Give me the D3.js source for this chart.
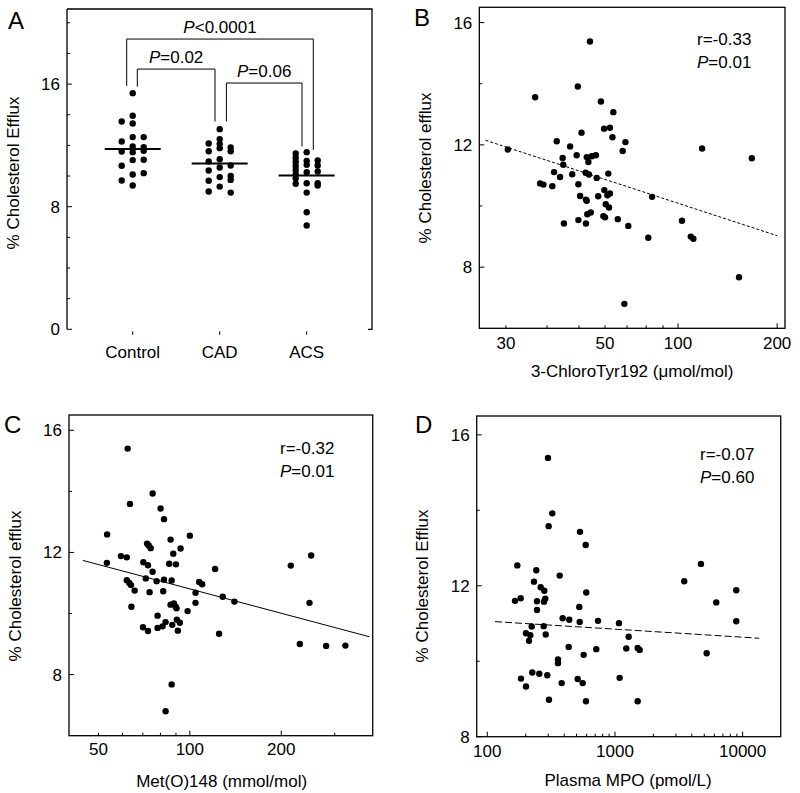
<!DOCTYPE html>
<html>
<head>
<meta charset="utf-8">
<script src="https://cdn.jsdelivr.net/npm/d3@7"></script>
<style>
  body { margin: 0; background: #fff; }
  svg text { font-family: "Liberation Sans", Arial, Helvetica, sans-serif; fill: #000; }
</style>
</head>
<body>
<div id="chart"></div>
<script>
// ---- panel A data: efflux per group, with the dot column (-1 / 0 / 1) it sits in
const groups = ["Control", "CAD", "ACS"];
const controlEfflux = [13.56, 12.25, 11.6, 10.67, 9.71,
  15.41, 13.93, 13.43, 12.54, 11.93, 11.56, 11.04, 10.1, 9.38,
  12.54, 11.89, 11.65, 11.06, 10.19];
const controlLane = [-1, -1, -1, -1, -1, 0, 0, 0, 0, 0, 0, 0, 0, 0, 1, 1, 1, 1, 1];
const cadEfflux = [12.12, 11.62, 10.95, 10.36, 9.69, 8.99,
  13.06, 12.41, 12.1, 11.82, 11.1, 10.56, 9.93, 9.31,
  11.86, 11.62, 10.69, 10.01, 9.75, 8.92];
const cadLane = [-1, -1, -1, -1, -1, -1, 0, 0, 0, 0, 0, 0, 0, 0, 1, 1, 1, 1, 1, 1];
const acsEfflux = [11.47, 11.2, 10.93, 10.66, 10.39, 10.12, 9.85, 9.5,
  11.56, 10.99, 10.73, 10.25, 9.53, 8.92, 7.64, 6.77,
  11.01, 10.69, 10.3, 9.53, 9.38];
const acsLane = [-1, -1, -1, -1, -1, -1, -1, -1, 0, 0, 0, 0, 0, 0, 0, 0, 1, 1, 1, 1, 1];
const groupMedians = [11.77, 10.82, 10.03];
const pairs = [["Control", "ACS"], ["Control", "CAD"], ["CAD", "ACS"]];
const pairTop = [18.94, 16.98, 16.07];
const pairLegs = [[15.89, 11.71], [15.83, 13.56], [13.56, 11.93]];
const pairP = ["<0.0001", "=0.02", "=0.06"];

// ---- panel B: 3-chlorotyrosine vs efflux
const chloroTyr = [54.0, 49.6, 36.8, 58.3, 63.6, 59.6, 62.1, 50.9, 63.2, 42.8, 69.2, 30.4, 47.0, 67.9, 118.3,
  167.5, 44.6, 44.8, 49.2, 52.8, 53.4, 54.7, 56.3, 42.0, 43.8, 47.7, 52.4, 53.6, 56.6, 61.4, 38.1, 39.0,
  41.5, 49.8, 50.4, 59.7, 61.0, 62.1, 57.2, 52.5, 52.8, 60.3, 61.7, 54.3, 53.0, 59.3, 60.0, 65.6, 49.8,
  45.0, 52.5, 70.6, 83.4, 81.2, 102.8, 109.3, 111.3, 153.2, 68.7];
const effluxB = [15.38, 13.91, 13.56, 13.42, 13.07, 12.53, 12.56, 12.40, 12.25, 12.12, 12.09, 11.85, 11.95, 11.80, 11.88,
  11.56, 11.57, 11.35, 11.66, 11.60, 11.44, 11.63, 11.66, 11.11, 10.95, 11.04, 11.09, 11.03, 10.92, 11.06, 10.74, 10.70,
  10.65, 10.71, 10.33, 10.52, 10.35, 10.41, 10.32, 10.21, 10.17, 10.06, 9.95, 9.79, 9.73, 9.67, 9.63, 9.57, 9.54,
  9.43, 9.43, 9.35, 10.30, 8.96, 9.52, 9.00, 8.93, 7.67, 6.80];
const fitB = [[26, 12.15], [200, 9.03]];

// ---- panel C: Met(O)148 vs efflux
const metO = [62.4, 63.5, 75.4, 80.1, 82.2, 53.4, 100, 86.4, 72.3, 73.2, 74.3, 93.2, 88.2, 59.3, 62.0, 53.3,
  121.1, 70.3, 72.8, 85.5, 90.0, 75.4, 215.0, 250.9, 62.0, 63.2, 64.0, 65.8, 71.6, 77.7, 82.2, 87.1, 107.3,
  109.8, 73.7, 81.7, 104.4, 128.3, 140.2, 247.7, 86.4, 88.6, 89.8, 90.4, 104.4, 64.2, 98.3, 78.3, 70.1,
  72.8, 78.3, 81.3, 83.2, 87.5, 90.6, 92.7, 91.3, 124.8, 230.2, 281.0, 325.2, 87.1, 83.2];
const effluxC = [15.40, 13.59, 13.93, 13.44, 13.09, 12.59, 12.55, 12.42, 12.29, 12.23, 12.14, 12.13, 11.96, 11.88, 11.84, 11.66,
  11.46, 11.68, 11.58, 11.63, 11.61, 11.37, 11.57, 11.90, 11.09, 11.00, 10.93, 10.75, 11.15, 11.06, 11.11, 11.08, 11.03,
  10.96, 10.70, 10.73, 10.68, 10.55, 10.39, 10.35, 10.29, 10.33, 10.22, 10.17, 10.35, 10.22, 10.08, 9.93, 9.55,
  9.43, 9.53, 9.58, 9.72, 9.63, 9.80, 9.70, 9.44, 9.34, 9.00, 8.94, 8.95, 7.68, 6.80];
const fitC = [[44.4, 11.74], [390, 9.24]];

// ---- panel D: plasma MPO vs efflux
const plasmaMPO = [298.7, 322.8, 302.5, 532, 589.6, 171.8, 241.9, 4715, 369, 232.1, 3488, 261.9, 279.5, 284.6, 278,
  596, 8911, 164.8, 182.6, 245, 245, 6214, 525.4, 389.4, 438.6, 529.2, 736.2, 1075, 222.6, 276.5, 8911,
  200.9, 217.1, 212.1, 286.7, 1280, 434, 713.9, 1226, 1506, 1561, 5224, 568.6, 357.8, 357.8, 225.1, 255.4,
  295, 183.6, 200.9, 382.4, 510.5, 558.5, 1088, 304.2, 592.8, 1506];
const effluxD = [15.39, 13.92, 13.58, 13.43, 13.08, 12.54, 12.41, 12.58, 12.27, 12.11, 12.12, 11.96, 11.87, 11.66, 11.58,
  11.82, 11.88, 11.60, 11.67, 11.59, 11.36, 11.56, 11.44, 11.14, 11.10, 11.04, 11.07, 11.01, 10.92, 10.93, 11.06,
  10.74, 10.69, 10.54, 10.71, 10.65, 10.38, 10.32, 10.34, 10.35, 10.30, 10.21, 10.17, 10.05, 9.95, 9.70, 9.67,
  9.63, 9.54, 9.33, 9.42, 9.53, 9.42, 9.56, 8.98, 8.94, 8.94];
const fitD = [[115, 11.05], [13490, 10.61]];

const FONT = 17;
const svg = d3.select("#chart").append("svg")
  .attr("width", 800).attr("height", 793);

function letter(t, x, y) {
  svg.append("text").attr("x", x).attr("y", y)
    .style("font-size", "24px").text(t);
}
function pText(sel, rest) {
  sel.append("tspan").style("font-style", "italic").text("P");
  sel.append("tspan").text(rest);
}

// ================= panel A =================
(function () {
  const L = 67, R = 372, T = 9, B = 329.3;
  const x = d3.scalePoint().domain(groups).range([132.7, 306.7]);
  const y = d3.scaleLinear().domain([0, 20.9]).range([B, T]);
  const lane = 11;
  const g = svg.append("g");

  g.append("path")
    .attr("d", `M${L},${T}V${B}M${L},${T}H${R}V${B}H${R - 4}`)
    .attr("fill", "none").attr("stroke", "#000").attr("stroke-width", 1.3);

  [0, 8, 16].forEach(function (v) {
    g.append("line").attr("x1", L).attr("x2", L + 5).attr("y1", y(v)).attr("y2", y(v)).attr("stroke", "#000");
    g.append("text").attr("x", L - 7).attr("y", y(v) + 6).attr("text-anchor", "end")
      .style("font-size", FONT + "px").text(v);
  });
  [2, 4, 6, 10, 12, 14, 18, 20].forEach(function (v) {
    g.append("line").attr("x1", L).attr("x2", L + 3).attr("y1", y(v)).attr("y2", y(v)).attr("stroke", "#000");
  });

  groups.forEach(function (c) {
    g.append("line").attr("x1", x(c)).attr("x2", x(c)).attr("y1", B + 2).attr("y2", B + 5.5).attr("stroke", "#000");
    g.append("text").attr("x", x(c)).attr("y", 358).attr("text-anchor", "middle")
      .style("font-size", FONT + "px").text(c);
  });

  const dots = [];
  [[controlEfflux, controlLane], [cadEfflux, cadLane], [acsEfflux, acsLane]].forEach(function (s, i) {
    s[0].forEach(function (v, j) { dots.push({group: groups[i], v: v, lane: s[1][j]}); });
  });
  g.selectAll("circle").data(dots).enter().append("circle")
    .attr("cx", d => x(d.group) + d.lane * lane)
    .attr("cy", d => y(d.v))
    .attr("r", 3.2);

  g.selectAll(".median").data(groupMedians).enter().append("line")
    .attr("x1", (d, i) => x(groups[i]) - 28).attr("x2", (d, i) => x(groups[i]) + 28)
    .attr("y1", d => y(d)).attr("y2", d => y(d))
    .attr("stroke", "#000").attr("stroke-width", 2);

  const inset = [[-6, 6.6], [4.6, -4.7], [6.7, -4.7]];
  pairs.forEach(function (p, i) {
    const x1 = x(p[0]) + inset[i][0], x2 = x(p[1]) + inset[i][1], yt = y(pairTop[i]);
    g.append("path")
      .attr("d", `M${x1},${y(pairLegs[i][0])}V${yt}H${x2}V${y(pairLegs[i][1])}`)
      .attr("fill", "none").attr("stroke", "#000").attr("stroke-width", 1);
    g.append("text").attr("x", (x1 + x2) / 2).attr("y", yt - 6).attr("text-anchor", "middle")
      .style("font-size", FONT + "px").call(pText, pairP[i]);
  });

  g.append("text")
    .attr("transform", "translate(13,173) rotate(-90)")
    .attr("text-anchor", "middle").attr("dominant-baseline", "central")
    .style("font-size", FONT + "px").text("% Cholesterol Efflux");
  letter("A", 8, 28.5);
})();

// ================= scatter panels =================
function scatter(o) {
  const x = d3.scaleLog().domain(o.xDomain).range([o.L, o.R]);
  const y = d3.scaleLinear().domain(o.yDomain).range([o.B, o.T]);
  const g = svg.append("g");

  g.append("rect").attr("x", o.L).attr("y", o.T)
    .attr("width", o.R - o.L).attr("height", o.B - o.T)
    .attr("fill", "none").attr("stroke", "#000").attr("stroke-width", 1.3);

  o.yMajor.forEach(function (v) {
    g.append("line").attr("x1", o.L).attr("x2", o.L + 5).attr("y1", y(v)).attr("y2", y(v)).attr("stroke", "#000");
    g.append("text").attr("x", o.L - 7).attr("y", y(v) + 6).attr("text-anchor", "end")
      .style("font-size", FONT + "px").text(v);
  });
  o.yMinor.forEach(function (v) {
    g.append("line").attr("x1", o.L).attr("x2", o.L + 3).attr("y1", y(v)).attr("y2", y(v)).attr("stroke", "#000");
  });
  o.xMajor.forEach(function (v) {
    g.append("line").attr("x1", x(v)).attr("x2", x(v)).attr("y1", o.B).attr("y2", o.B - 5).attr("stroke", "#000");
  });
  o.xMinor.forEach(function (v) {
    g.append("line").attr("x1", x(v)).attr("x2", x(v)).attr("y1", o.B).attr("y2", o.B - 3).attr("stroke", "#000");
  });
  o.xLabelAt.forEach(function (v, i) {
    g.append("text").attr("x", x(v)).attr("y", o.B + o.xLabelOff + 6).attr("text-anchor", "middle")
      .style("font-size", FONT + "px").text(o.xLabelText[i]);
  });

  g.selectAll("circle").data(o.xs).enter().append("circle")
    .attr("cx", d => x(d))
    .attr("cy", (d, i) => y(o.ys[i]))
    .attr("r", 3.2);

  g.append("line")
    .attr("x1", x(o.fit[0][0])).attr("y1", y(o.fit[0][1]))
    .attr("x2", x(o.fit[1][0])).attr("y2", y(o.fit[1][1]))
    .attr("stroke", "#000").attr("stroke-width", 1)
    .attr("stroke-dasharray", o.dash);

  g.append("text").attr("x", o.ann[0]).attr("y", o.ann[1])
    .style("font-size", FONT + "px").text(o.r);
  g.append("text").attr("x", o.ann[0]).attr("y", o.ann[1] + 23)
    .style("font-size", FONT + "px").call(pText, o.p);

  g.append("text").attr("x", (o.L + o.R) / 2 + o.xTitleShift).attr("y", o.xTitleY + 6)
    .attr("text-anchor", "middle").style("font-size", FONT + "px").text(o.xTitle);
  g.append("text")
    .attr("transform", `translate(${o.L - 54},${o.yTitleY}) rotate(-90)`)
    .attr("text-anchor", "middle").attr("dominant-baseline", "central")
    .style("font-size", FONT + "px").text(o.yTitle);
  letter(o.letter[0], o.letter[1], o.letter[2]);
}

scatter({
  L: 479.3, R: 785, T: 7.3, B: 328.3,
  xDomain: [24.9, 211.3], yDomain: [6, 16.5],
  xs: chloroTyr, ys: effluxB, fit: fitB, dash: "3,2",
  yMajor: [8, 12, 16], yMinor: [10, 14],
  xMajor: [100, 200], xMinor: [30, 40, 50, 60, 70, 80, 90],
  xLabelAt: [30, 60, 100, 200], xLabelText: ["30", "50", "100", "200"], xLabelOff: 15,
  xTitle: "3-ChloroTyr192 (\u03bcmol/mol)", xTitleY: 371, xTitleShift: 0,
  yTitle: "% Cholesterol efflux", yTitleY: 168,
  r: "r=-0.33", p: "=0.01", ann: [697, 45],
  letter: ["B", 414, 26.3]
});

scatter({
  L: 69, R: 372.7, T: 415, B: 735.7,
  xDomain: [40, 400], yDomain: [6, 16.5],
  xs: metO, ys: effluxC, fit: fitC, dash: null,
  yMajor: [8, 12, 16], yMinor: [10, 14],
  xMajor: [100, 200], xMinor: [50, 60, 70, 80, 90, 300],
  xLabelAt: [50, 100, 200], xLabelText: ["50", "100", "200"], xLabelOff: 13,
  xTitle: "Met(O)148 (mmol/mol)", xTitleY: 781, xTitleShift: 0.8,
  yTitle: "% Cholesterol efflux", yTitleY: 586,
  r: "r=-0.32", p: "=0.01", ann: [280, 454],
  letter: ["C", 4, 433.3]
});

scatter({
  L: 476.7, R: 780.7, T: 416, B: 736.7,
  xDomain: [82.6, 19860], yDomain: [8, 16.5],
  xs: plasmaMPO, ys: effluxD, fit: fitD, dash: "7,3",
  yMajor: [8, 12, 16], yMinor: [10, 14],
  xMajor: [100, 1000, 10000],
  xMinor: [200, 300, 400, 500, 600, 700, 800, 900, 2000, 3000, 4000, 5000, 6000, 7000, 8000, 9000],
  xLabelAt: [100, 1000, 10000], xLabelText: ["100", "1000", "10000"], xLabelOff: 14,
  xTitle: "Plasma MPO (pmol/L)", xTitleY: 780, xTitleShift: -0.7,
  yTitle: "% Cholesterol Efflux", yTitleY: 586,
  r: "r=-0.07", p: "=0.60", ann: [700, 460],
  letter: ["D", 415, 433.3]
});
</script>
</body>
</html>
